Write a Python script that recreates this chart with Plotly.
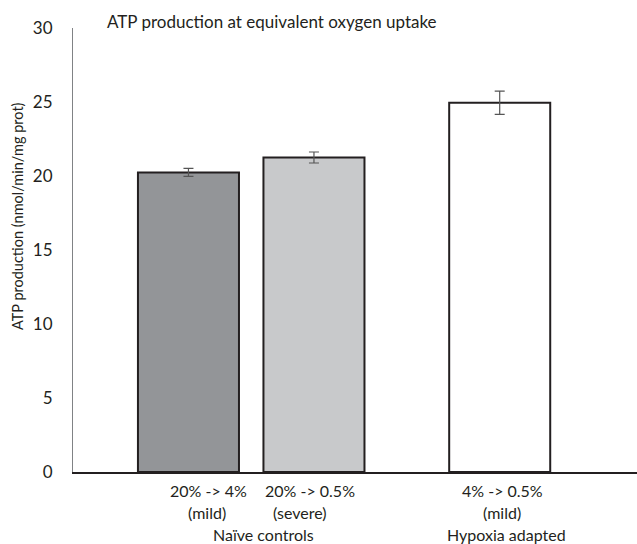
import plotly.graph_objects as go

# Data
conditions = ["20% -> 4% (mild)", "20% -> 0.5% (severe)", "4% -> 0.5% (mild)"]
x_positions = [1, 2, 3.48]
atp_values = [20.24, 21.25, 24.95]
atp_errors = [0.27, 0.37, 0.78]
bar_colors = ["#939598", "#c8c9cb", "#ffffff"]
tick_line1 = ["20% -> 4%", "20% -> 0.5%", "4% -> 0.5%"]
tick_line2 = ["(mild)", "(severe)", "(mild)"]
group_labels = ["Naïve controls", "Hypoxia adapted"]

FONT = "Lato"
W, H = 637, 544
L, R, T, B = 73, 0, 28, 72
PW = W - L - R
PH = H - T - B

def px_x(px):
    return (px - L) / PW

def px_y(py):
    return (H - B - py) / PH

fig = go.Figure()
fig.add_trace(go.Bar(
    x=x_positions, y=atp_values, width=0.805,
    marker=dict(color=bar_colors, line=dict(color="#231f20", width=2)),
    error_y=dict(type="data", array=atp_errors, color="#555555", thickness=1.2, width=5),
    hoverinfo="skip", showlegend=False,
))

annotations = []
line1_px = [208, 310, 502]
line2_px = [207, 300, 502]
for i in range(3):
    annotations.append(dict(text=tick_line1[i], x=px_x(line1_px[i]), y=px_y(490), xref="paper", yref="paper",
                            showarrow=False, font=dict(family=FONT, size=16, color="#231f20"), xanchor="center", yanchor="middle"))
    annotations.append(dict(text=tick_line2[i], x=px_x(line2_px[i]), y=px_y(512), xref="paper", yref="paper",
                            showarrow=False, font=dict(family=FONT, size=16, color="#231f20"), xanchor="center", yanchor="middle"))
group_px = [263, 506]
for g, gx in zip(group_labels, group_px):
    annotations.append(dict(text=g, x=px_x(gx), y=px_y(534), xref="paper", yref="paper",
                            showarrow=False, font=dict(family=FONT, size=16, color="#231f20"), xanchor="center", yanchor="middle"))
annotations.append(dict(text="ATP production at equivalent oxygen uptake", x=px_x(272), y=px_y(22),
                        xref="paper", yref="paper", showarrow=False,
                        font=dict(family=FONT, size=17, color="#231f20"), xanchor="center", yanchor="middle"))
annotations.append(dict(text="ATP production (nmol/min/mg prot)", x=px_x(17), y=px_y(216),
                        xref="paper", yref="paper", showarrow=False, textangle=-90,
                        font=dict(family=FONT, size=14.5, color="#231f20"), xanchor="center", yanchor="middle"))

fig.update_layout(
    width=W, height=H,
    margin=dict(l=L, r=R, t=T, b=B),
    paper_bgcolor="white", plot_bgcolor="white",
    font=dict(family=FONT, color="#231f20"),
    annotations=annotations,
    xaxis=dict(range=[0.08, 4.574], showticklabels=False, ticks="", showgrid=False, zeroline=False,
               showline=True, linecolor="#231f20", linewidth=1.5),
    yaxis=dict(range=[0, 30], tickvals=[0, 5, 10, 15, 20, 25, 30], ticks="", showgrid=False, zeroline=False,
               showline=True, linecolor="#808285", linewidth=1.2,
               tickfont=dict(family=FONT, size=17, color="#231f20"), ticklabelstandoff=16),
)

fig.write_html("out.html", config={"displayModeBar": False},
               post_script="document.body.style.margin='0';document.body.style.overflow='hidden';")
